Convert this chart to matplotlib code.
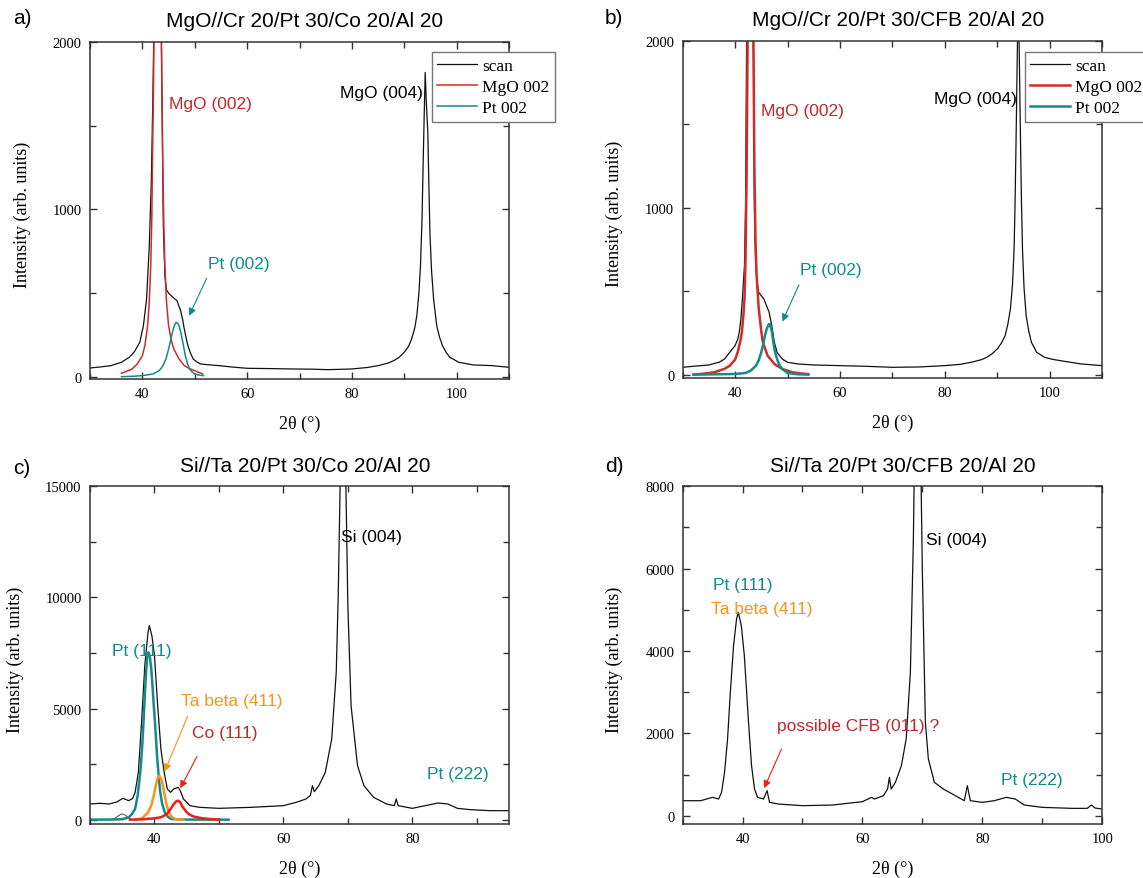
import matplotlib
matplotlib.use("Agg")
import matplotlib.pyplot as plt
from matplotlib.ticker import MultipleLocator

# ---------------- data ----------------
# Panel a: MgO//Cr 20/Pt 30/Co 20/Al 20
a_scan_x = [30, 32, 34, 36, 37.5, 38.5, 39.5, 40.2, 40.8, 41.3, 41.7, 42.0, 42.2, 42.5, 42.9, 43.3, 43.6, 43.8,
            44.0, 44.3, 44.6, 45.0, 45.5, 46.0, 46.6, 47.0, 47.3, 47.7, 48.0, 48.4, 48.7, 49.2, 49.7, 50.4, 51.1,
            53, 54.6, 57, 60, 65, 68.5, 72, 75.4, 78, 80, 83, 85, 87, 88, 89, 90, 90.8, 91.4, 92.0, 92.4, 92.8,
            93.1, 93.4, 93.6, 93.8, 94.0, 94.2, 94.5, 94.7, 94.9, 95.2, 95.6, 96.2, 96.7, 97.3, 98.0, 98.7, 100.4,
            103.2, 106.7, 110]
a_scan_y = [52, 58, 66, 86, 116, 150, 205, 305, 465, 764, 1163, 1660, 2100, 4000, 9000, 4000, 2100, 1500,
            900, 600, 520, 500, 485, 470, 455, 420, 395, 340, 285, 225, 185, 140, 106, 88, 76,
            70, 66, 58, 50, 48, 46, 45, 42, 44, 46, 55, 66, 82, 96, 115, 146, 180, 225, 290, 365, 500,
            664, 950, 1262, 1550, 1820, 1650, 1460, 1150, 863, 640, 465, 305, 240, 185, 145, 116, 86,
            70, 66, 56]
a_mgo_x = [36.0, 38, 39, 40, 40.5, 41.0, 41.3, 41.6, 41.8, 42.0, 42.15, 42.3, 42.6, 42.95, 43.3, 43.55, 43.7,
           43.9, 44.1, 44.3, 44.6, 45.0, 45.5, 46.0, 47.0, 48.0, 49.0, 50.0, 51.5]
a_mgo_y = [20, 45, 75, 125, 190, 305, 440, 664, 950, 1460, 1800, 2300, 5000, 9000, 5000, 2300, 1800,
           1262, 900, 664, 450, 305, 220, 165, 106, 66, 48, 36, 16]
a_pt_x = [36.0, 38, 40, 42, 43.0, 43.5, 44.0, 44.5, 45.0, 45.3, 45.7, 46.0, 46.3, 46.5, 46.8, 47.0, 47.3, 47.6,
          47.9, 48.2, 48.6, 49.0, 49.5, 50.0, 51.0, 51.7]
a_pt_y = [0, 2, 6, 16, 32, 46, 70, 106, 165, 205, 260, 295, 318, 325, 318, 305, 270, 225,
          175, 125, 80, 46, 28, 16, 8, 6]

# Panel b: MgO//Cr 20/Pt 30/CFB 20/Al 20
b_scan_x = [30, 32, 35, 37, 38, 39, 40, 40.5, 40.8, 41.1, 41.4, 41.6, 41.8, 42.0, 42.2, 42.5, 42.9, 43.3, 43.5,
            43.7, 43.9, 44.2, 44.5, 45.0, 45.5, 46.0, 46.5, 47.0, 47.5, 48.0, 49.0, 50.0, 52.0, 55.0, 60.0,
            65.0, 70.0, 75.0, 80.0, 83.0, 85.0, 87.0, 88.0, 89.0, 90.0, 90.8, 91.5, 92.0, 92.5, 92.9, 93.2,
            93.4, 93.6, 93.8, 94.0, 94.2, 94.4, 94.6, 94.8, 95.1, 95.5, 96.0, 96.5, 97.5, 99.0, 100.5, 102,
            106, 110]
b_scan_y = [44, 50, 58, 75, 94, 134, 174, 210, 253, 330, 453, 560, 653, 1000, 2000, 5000, 9000, 5000, 2000,
            1000, 700, 553, 493, 473, 453, 413, 373, 293, 194, 134, 94, 74, 64, 58, 54,
            50, 44, 46, 54, 62, 74, 90, 104, 125, 154, 190, 234, 300, 393, 540, 752,
            1050, 1451, 1900, 2300, 1900, 1451, 1050, 752, 520, 353, 260, 194, 134, 104, 92, 84,
            64, 54]
b_mgo_x = [32.1, 34, 36, 38, 39, 40, 40.5, 41.0, 41.3, 41.6, 41.8, 42.0, 42.2, 42.4, 42.7, 42.95, 43.2, 43.5,
           43.7, 43.9, 44.1, 44.5, 45.0, 45.3, 46.2, 47.5, 49.0, 51.0, 53.0, 53.9]
b_mgo_y = [0, 6, 14, 35, 54, 90, 134, 200, 253, 360, 453, 700, 1200, 2000, 6000, 9000, 6000, 2000,
           1200, 800, 600, 400, 260, 194, 114, 64, 34, 14, 6, 4]
b_pt_x = [32.1, 36, 40, 42, 43.0, 44.0, 44.5, 45.0, 45.4, 45.7, 46.0, 46.3, 46.5, 46.7, 47.0, 47.3, 47.6,
          48.0, 48.5, 49.0, 50.0, 52.0, 54.0]
b_pt_y = [0, 2, 4, 10, 24, 54, 85, 134, 185, 234, 270, 293, 303, 298, 260, 194, 140,
          94, 55, 34, 10, 2, 0]

# Panel c: Si//Ta 20/Pt 30/Co 20/Al 20
c_scan_x = [30, 31.5, 33, 34.2, 35.1, 36, 36.6, 37, 37.5, 38, 38.5, 39, 39.2, 39.6, 40, 40.5, 41, 41.5, 42,
            42.5, 43, 43.7, 44, 44.5, 45.5, 47, 50, 55, 58, 60, 62, 63.5, 64.2, 64.5, 64.8, 65.5, 66.5, 67.5,
            68.2, 68.5, 68.8, 69.2, 69.7, 70, 70.5, 71.5, 72.5, 74, 76, 77.2, 77.5, 77.8, 80, 82, 84, 85.5,
            87, 89, 92, 95]
c_scan_y = [705, 737, 705, 800, 963, 855, 950, 1230, 2130, 4380, 6930, 8430, 8730, 8280, 7380, 5130, 3180,
            2130, 1380, 1230, 1380, 1457, 1305, 930, 630, 555, 510, 555, 600, 630, 780, 930, 1100, 1530,
            1260, 1530, 2130, 3630, 6630, 10000, 15000, 40000, 15000, 9630, 5130, 2430, 1530, 1005, 705,
            630, 930, 630, 510, 630, 750, 705, 510, 450, 405, 405]
c_small_x = [33.2, 33.8, 34.3, 34.7, 35.0, 35.3, 35.7, 36.2, 36.8]
c_small_y = [0, 40, 150, 235, 256, 235, 150, 40, 0]
c_pt_x = [30, 33, 35, 36, 36.5, 37.0, 37.4, 37.8, 38.1, 38.3, 38.5, 38.7, 38.9, 39.1, 39.3, 39.5, 39.7, 39.9,
          40.1, 40.4, 40.7, 40.9, 41.2, 41.6, 42.1, 42.6, 44, 51.5]
c_pt_y = [0, 5, 20, 100, 250, 480, 1100, 2130, 3300, 4380, 5600, 6630, 7400, 7530, 7300, 6800, 6000, 5100,
          4300, 2880, 1800, 1230, 700, 330, 120, 30, 5, 0]
c_ta_x = [37.0, 38.0, 38.5, 39.0, 39.5, 39.9, 40.2, 40.5, 40.75, 41.0, 41.2, 41.5, 41.8, 42.1, 42.5, 43.0, 43.5,
          44.5]
c_ta_y = [0, 60, 180, 330, 630, 1100, 1530, 1880, 1980, 1850, 1680, 1250, 780, 450, 180, 60, 15, 0]
c_co_x = [36.2, 38.0, 40.0, 41.0, 41.5, 42.0, 42.5, 43.0, 43.4, 43.7, 44.0, 44.3, 44.7, 45.0, 45.5, 46.0, 47.0,
          47.5, 49.0, 50.0]
c_co_y = [0, 15, 60, 110, 180, 280, 480, 705, 830, 855, 780, 600, 450, 330, 220, 150, 85, 60, 20, 0]

# Panel d: Si//Ta 20/Pt 30/CFB 20/Al 20
d_scan_x = [30, 33, 35, 36, 36.5, 37, 37.5, 38, 38.5, 39, 39.3, 39.8, 40.3, 41, 41.5, 42, 42.5, 43.5, 44.1,
            44.5, 46, 50, 55, 58, 60, 61.5, 62, 63.5, 64.2, 64.5, 64.8, 65.5, 66.5, 67.3, 68, 68.5, 68.8,
            69.2, 69.6, 70, 70.5, 71, 72, 73.5, 75, 77, 77.5, 78, 80, 82, 84, 85.5, 87, 90, 95, 97.5, 98.2,
            98.8, 100]
d_scan_y = [364, 364, 445, 405, 567, 1053, 1862, 3077, 4130, 4777, 4939, 4615, 3887, 2267, 1215, 648, 445,
            405, 607, 324, 283, 243, 259, 308, 340, 445, 405, 486, 648, 931, 648, 810, 1215, 1862, 3482,
            6721, 10000, 20000, 10000, 5911, 2267, 1377, 810, 648, 526, 364, 729, 364, 324, 364, 445, 405,
            259, 202, 178, 178, 259, 186, 162]

# ---------------- styling ----------------
SCAN = "#111111"
RED_FIT = "#cf2b2b"
RED_TXT = "#c0282d"
CO_FIT = "#ee1c1c"
TEAL = "#138b8b"
ORANGE = "#f7941d"
SANS = "Liberation Sans"
SERIF = "Liberation Serif"

fig = plt.figure(figsize=(11.43, 8.79), dpi=100)
W, H = 1143.0, 879.0


def make_ax(l, r, t, b):
    return fig.add_axes([l / W, 1 - b / H, (r - l) / W, (b - t) / H])


axa = make_ax(90, 509, 43.3, 380)
axb = make_ax(682.6, 1102.2, 41.7, 379)
axc = make_ax(90, 509, 487.3, 825)
axd = make_ax(682.6, 1102.2, 487.3, 825)


def style(ax, xlim, ylim, xmaj, ymaj, ylab_x):
    ax.set_xlim(*xlim)
    ax.set_ylim(*ylim)
    ax.xaxis.set_major_locator(MultipleLocator(xmaj))
    ax.xaxis.set_minor_locator(MultipleLocator(xmaj / 2))
    ax.yaxis.set_major_locator(MultipleLocator(ymaj))
    ax.yaxis.set_minor_locator(MultipleLocator(ymaj / 2))
    ax.tick_params(which="both", direction="in", top=True, right=True, color="#333333", width=1.0)
    ax.tick_params(which="major", length=5, pad=6)
    ax.tick_params(which="minor", length=4)
    for lab in ax.get_xticklabels() + ax.get_yticklabels():
        lab.set_fontfamily(SERIF)
        lab.set_fontsize(10.5)
    for s in ax.spines.values():
        s.set_linewidth(1.1)
        s.set_color("#333333")
    ax.set_xlabel("2θ (°)", fontfamily=SERIF, fontsize=13)
    ax.set_ylabel("Intensity (arb. units)", fontfamily=SERIF, fontsize=13)
    ax.yaxis.set_label_coords(ylab_x, 0.49)
    ax.xaxis.set_label_coords(0.5, -0.107)


def txt(ax, x, y, s, color):
    ax.text(x, y, s, color=color, fontfamily=SANS, fontsize=12.5, va="center", ha="left")


def arrow(ax, x0, y0, x1, y1, color):
    ax.annotate("", xy=(x1, y1), xytext=(x0, y0),
                arrowprops=dict(arrowstyle="-|>", color=color, lw=0.8, mutation_scale=11))


# ---- panel a ----
axa.plot(a_scan_x, a_scan_y, color=SCAN, lw=0.9, label="scan")
axa.plot(a_mgo_x, a_mgo_y, color=RED_FIT, lw=1.1, label="MgO 002")
axa.plot(a_pt_x, a_pt_y, color=TEAL, lw=1.1, label="Pt 002")
style(axa, (30, 110), (-14, 2000), 20, 1000, -0.141)
txt(axa, 45.0, 1631, "MgO (002)", RED_TXT)
txt(axa, 77.8, 1701, "MgO (004)", "black")
txt(axa, 52.5, 678, "Pt (002)", TEAL)
arrow(axa, 52.5, 604, 48.7, 349, TEAL)

# ---- panel b ----
axb.plot(b_scan_x, b_scan_y, color=SCAN, lw=0.9, label="scan")
axb.plot(b_mgo_x, b_mgo_y, color=RED_FIT, lw=1.8, label="MgO 002")
axb.plot(b_pt_x, b_pt_y, color=TEAL, lw=1.8, label="Pt 002")
style(axb, (30, 110), (-20, 2000), 20, 1000, -0.142)
txt(axb, 44.9, 1581, "MgO (002)", RED_TXT)
txt(axb, 77.9, 1651, "MgO (004)", "black")
txt(axb, 52.4, 629, "Pt (002)", TEAL)
arrow(axb, 52.4, 553, 48.8, 303, TEAL)

# ---- panel c ----
axc.plot(c_scan_x, c_scan_y, color=SCAN, lw=0.9)
axc.plot(c_small_x, c_small_y, color="#444444", lw=0.7)
axc.plot(c_pt_x, c_pt_y, color=TEAL, lw=1.8)
axc.plot(c_ta_x, c_ta_y, color=ORANGE, lw=1.8)
axc.plot(c_co_x, c_co_y, color=CO_FIT, lw=1.8)
style(axc, (30, 95), (-195, 15000), 20, 5000, -0.158)
txt(axc, 33.4, 7605, "Pt (111)", TEAL)
txt(axc, 69.0, 12735, "Si (004)", "black")
txt(axc, 44.1, 5355, "Ta beta (411)", ORANGE)
txt(axc, 45.9, 3930, "Co (111)", RED_TXT)
txt(axc, 82.3, 2055, "Pt (222)", TEAL)
arrow(axc, 45.3, 4755, 41.4, 2055, ORANGE)
arrow(axc, 46.8, 2955, 43.8, 1305, CO_FIT)

# ---- panel d ----
axd.plot(d_scan_x, d_scan_y, color=SCAN, lw=0.9)
style(axd, (30, 100), (-202, 8000), 20, 2000, -0.142)
txt(axd, 35.0, 5611, "Pt (111)", TEAL)
txt(axd, 34.7, 5020, "Ta beta (411)", ORANGE)
txt(axd, 70.6, 6696, "Si (004)", "black")
txt(axd, 45.8, 2202, "possible CFB (011) ?", RED_TXT)
txt(axd, 83.1, 874, "Pt (222)", TEAL)
arrow(axd, 46.7, 1684, 43.4, 607, CO_FIT)

# ---- legends ----
for ax, lx in ((axa, 431.8), (axb, 1025.0)):
    leg = ax.legend(loc="upper left", bbox_to_anchor=(lx / W, 1 - 53.3 / H), bbox_transform=fig.transFigure,
                    borderaxespad=0, prop={"family": SERIF, "size": 12.5}, frameon=True, fancybox=False,
                    edgecolor="#777777", framealpha=1, handlelength=2.3, handletextpad=0.3,
                    labelspacing=0.3, borderpad=0.3)
    leg.get_frame().set_linewidth(1.0)

# ---- titles and panel letters ----
titles = [("MgO//Cr 20/Pt 30/Co 20/Al 20", 305, 21.7), ("MgO//Cr 20/Pt 30/CFB 20/Al 20", 898, 20.5),
          ("Si//Ta 20/Pt 30/Co 20/Al 20", 305, 467), ("Si//Ta 20/Pt 30/CFB 20/Al 20", 903, 467)]
for s, x, y in titles:
    fig.text(x / W, 1 - y / H, s, ha="center", va="center", fontfamily=SANS, fontsize=15)
letters = [("a)", 12.7, 19), ("b)", 605, 18), ("c)", 12.7, 468), ("d)", 604.7, 467)]
for s, x, y in letters:
    fig.text(x / W, 1 - y / H, s, ha="left", va="center", fontfamily=SANS, fontsize=15)

fig.savefig("out.png", dpi=100)
